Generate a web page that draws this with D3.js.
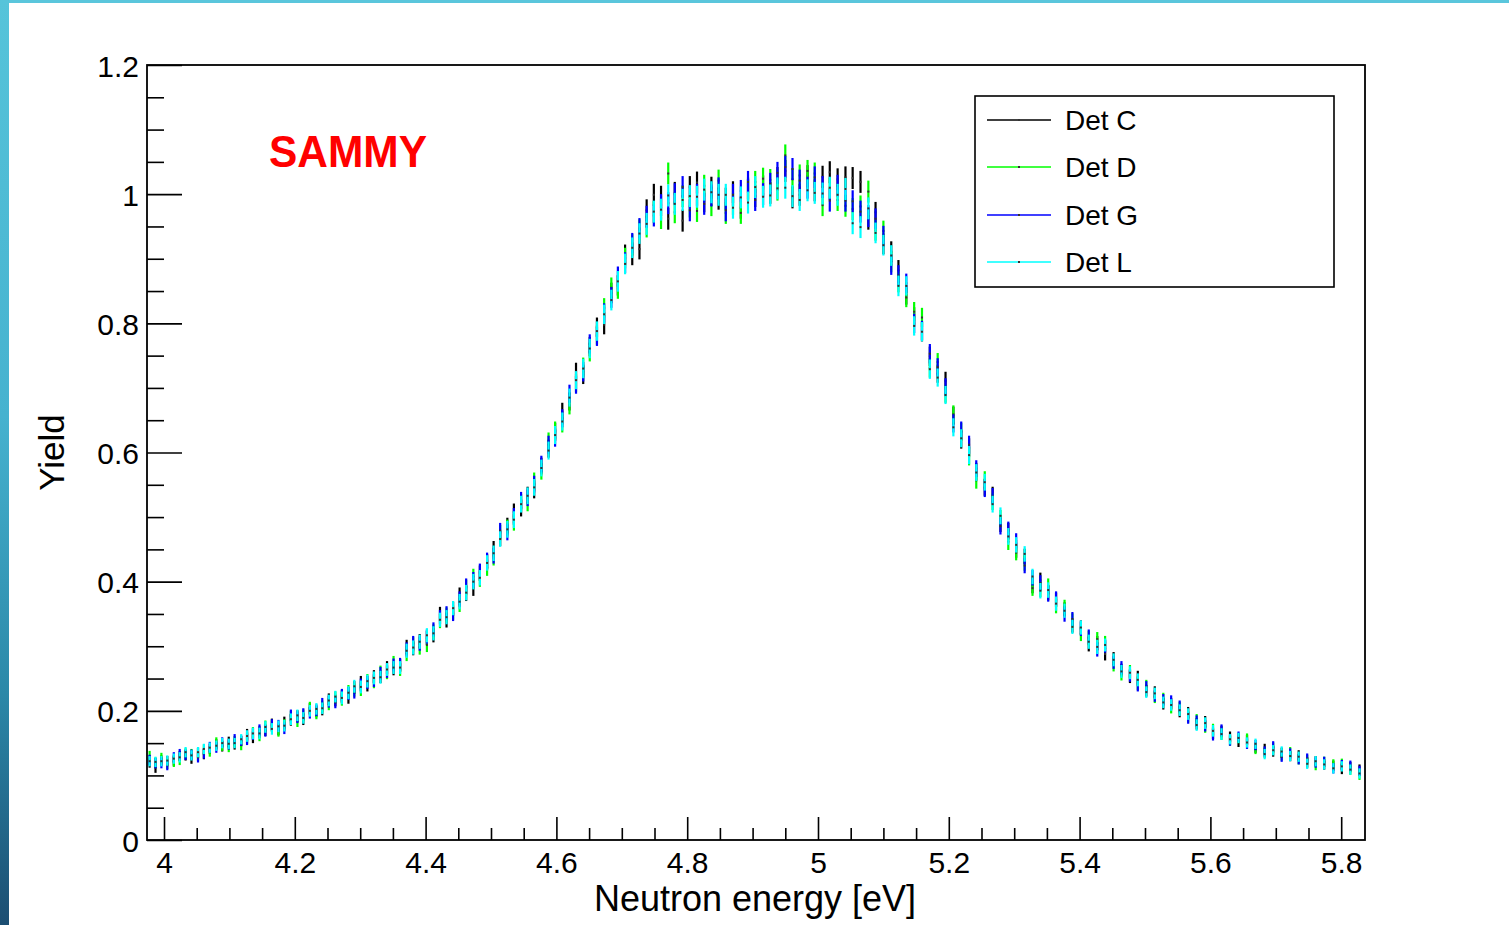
<!DOCTYPE html>
<html>
<head>
<meta charset="utf-8">
<script src="https://cdn.jsdelivr.net/npm/d3@7/dist/d3.min.js"></script>
<style>
html,body{margin:0;padding:0;background:#fff;}
svg{display:block;}
text{font-family:"Liberation Sans",Arial,Helvetica,sans-serif;}
</style>
</head>
<body>
<svg id="chart" width="1509" height="925"></svg>
<script>
// ---------- data ----------
const energies = [3.978,3.987,3.996,4.005,4.015,4.024,4.033,4.042,4.052,4.061,
4.070,4.080,4.089,4.099,4.108,4.118,4.127,4.136,4.146,4.155,
4.165,4.175,4.184,4.194,4.204,4.213,4.223,4.233,4.242,4.252,
4.262,4.272,4.282,4.291,4.301,4.311,4.321,4.331,4.341,4.351,
4.361,4.371,4.381,4.391,4.402,4.412,4.422,4.432,4.442,4.452,
4.462,4.473,4.483,4.494,4.504,4.514,4.525,4.535,4.546,4.556,
4.566,4.577,4.588,4.598,4.609,4.620,4.630,4.641,4.651,4.662,
4.673,4.684,4.694,4.705,4.716,4.727,4.738,4.749,4.760,4.771,
4.781,4.793,4.804,4.815,4.826,4.837,4.848,4.859,4.870,4.882,
4.893,4.904,4.916,4.927,4.938,4.950,4.961,4.972,4.984,4.995,
5.007,5.018,5.030,5.042,5.053,5.065,5.077,5.088,5.100,5.112,
5.123,5.135,5.147,5.159,5.171,5.183,5.195,5.207,5.219,5.231,
5.242,5.255,5.267,5.279,5.291,5.303,5.316,5.328,5.340,5.352,
5.364,5.377,5.389,5.402,5.414,5.427,5.439,5.452,5.464,5.477,
5.489,5.502,5.515,5.528,5.540,5.553,5.566,5.579,5.592,5.604,
5.617,5.630,5.643,5.656,5.669,5.683,5.696,5.709,5.722,5.735,
5.748,5.761,5.774,5.788,5.801,5.814,5.828];

const detC = [0.120,0.112,0.123,0.122,0.123,0.130,0.131,0.126,0.135,0.133,
0.141,0.148,0.145,0.152,0.148,0.153,0.163,0.159,0.167,0.170,
0.179,0.171,0.182,0.186,0.192,0.187,0.203,0.199,0.202,0.218,
0.216,0.222,0.221,0.236,0.244,0.240,0.253,0.253,0.267,0.265,
0.270,0.299,0.297,0.308,0.313,0.317,0.350,0.340,0.358,0.379,
0.382,0.390,0.413,0.431,0.451,0.467,0.486,0.508,0.514,0.534,
0.542,0.579,0.606,0.632,0.663,0.679,0.725,0.721,0.764,0.794,
0.798,0.847,0.859,0.906,0.906,0.915,0.975,0.999,0.996,0.962,
1.002,0.959,1.011,1.018,0.989,1.010,0.993,0.993,1.003,0.979,
1.007,0.997,1.012,1.002,1.025,1.036,0.995,0.999,1.028,1.006,
1.027,1.034,1.023,1.026,1.025,1.019,0.962,0.972,0.923,0.911,
0.882,0.844,0.810,0.787,0.749,0.722,0.711,0.657,0.620,0.608,
0.571,0.546,0.534,0.490,0.478,0.449,0.439,0.394,0.402,0.383,
0.372,0.357,0.332,0.329,0.303,0.305,0.288,0.281,0.263,0.253,
0.252,0.231,0.229,0.211,0.211,0.199,0.197,0.180,0.183,0.165,
0.168,0.160,0.152,0.155,0.143,0.141,0.137,0.135,0.130,0.131,
0.120,0.122,0.117,0.115,0.110,0.113,0.109];

const detD = [0.130,0.120,0.127,0.118,0.121,0.124,0.134,0.133,0.130,0.140,
0.137,0.151,0.146,0.144,0.153,0.147,0.158,0.166,0.162,0.176,
0.176,0.169,0.178,0.191,0.184,0.193,0.205,0.196,0.207,0.210,
0.221,0.218,0.230,0.232,0.233,0.247,0.245,0.260,0.259,0.275,
0.264,0.288,0.303,0.298,0.302,0.323,0.339,0.349,0.352,0.365,
0.391,0.408,0.404,0.421,0.437,0.476,0.483,0.492,0.523,0.522,
0.556,0.571,0.617,0.634,0.645,0.673,0.708,0.732,0.756,0.782,
0.824,0.855,0.854,0.901,0.922,0.945,0.950,0.972,0.963,1.032,
0.972,0.997,0.981,0.974,1.013,0.983,1.021,0.971,0.985,0.971,
1.009,1.019,1.024,1.022,1.007,1.060,1.023,1.029,1.036,1.032,
0.983,1.008,0.991,0.982,0.977,0.981,1.004,0.944,0.943,0.895,
0.864,0.840,0.818,0.809,0.731,0.740,0.691,0.659,0.632,0.594,
0.557,0.558,0.524,0.498,0.462,0.445,0.429,0.390,0.388,0.393,
0.362,0.361,0.340,0.319,0.313,0.311,0.306,0.271,0.257,0.261,
0.242,0.239,0.221,0.219,0.205,0.205,0.191,0.186,0.175,0.171,
0.164,0.154,0.158,0.157,0.141,0.135,0.143,0.131,0.136,0.125,
0.124,0.116,0.121,0.117,0.118,0.109,0.101];

const detG = [0.124,0.119,0.119,0.116,0.128,0.133,0.132,0.132,0.128,0.134,
0.144,0.143,0.151,0.148,0.156,0.154,0.156,0.164,0.170,0.169,
0.178,0.177,0.173,0.193,0.190,0.195,0.197,0.201,0.211,0.214,
0.213,0.224,0.227,0.229,0.240,0.244,0.247,0.258,0.261,0.271,
0.272,0.295,0.305,0.304,0.315,0.326,0.345,0.351,0.350,0.373,
0.393,0.403,0.416,0.433,0.440,0.479,0.477,0.501,0.526,0.530,
0.551,0.582,0.612,0.623,0.653,0.691,0.705,0.725,0.768,0.780,
0.816,0.840,0.872,0.894,0.924,0.947,0.965,0.967,0.983,0.986,
1.000,1.011,0.975,0.999,0.985,0.998,1.009,0.975,0.999,1.005,
1.019,0.991,1.000,1.016,1.033,1.042,1.039,1.021,1.010,1.026,
1.011,0.990,1.013,0.990,0.989,0.973,0.966,0.962,0.935,0.891,
0.874,0.862,0.800,0.789,0.753,0.732,0.701,0.645,0.634,0.612,
0.575,0.544,0.532,0.486,0.480,0.463,0.425,0.406,0.398,0.381,
0.374,0.349,0.342,0.327,0.315,0.295,0.300,0.275,0.267,0.255,
0.240,0.237,0.223,0.217,0.215,0.207,0.189,0.184,0.177,0.163,
0.170,0.154,0.160,0.149,0.147,0.137,0.145,0.129,0.134,0.125,
0.126,0.120,0.121,0.111,0.116,0.115,0.107];

const detL = [0.122,0.121,0.122,0.123,0.126,0.128,0.136,0.131,0.136,0.141,
0.143,0.146,0.150,0.149,0.150,0.156,0.161,0.165,0.165,0.175,
0.172,0.176,0.177,0.187,0.193,0.189,0.200,0.203,0.204,0.216,
0.222,0.220,0.228,0.238,0.237,0.246,0.251,0.252,0.264,0.267,
0.267,0.293,0.298,0.307,0.317,0.320,0.341,0.345,0.359,0.369,
0.383,0.400,0.406,0.429,0.444,0.466,0.481,0.496,0.520,0.533,
0.546,0.576,0.603,0.627,0.648,0.685,0.712,0.730,0.761,0.788,
0.814,0.836,0.865,0.892,0.917,0.939,0.954,0.973,0.976,0.998,
0.985,0.991,0.997,0.996,1.007,1.003,0.999,0.999,0.979,0.995,
0.987,1.011,0.996,0.998,1.009,1.010,0.997,0.991,1.006,1.002,
1.001,1.010,0.999,1.008,0.955,0.949,0.978,0.940,0.921,0.905,
0.858,0.858,0.796,0.787,0.729,0.716,0.689,0.639,0.622,0.596,
0.569,0.554,0.520,0.502,0.470,0.457,0.443,0.408,0.386,0.387,
0.366,0.355,0.330,0.329,0.307,0.299,0.302,0.279,0.261,0.259,
0.248,0.229,0.227,0.213,0.209,0.201,0.195,0.178,0.181,0.169,
0.164,0.156,0.158,0.151,0.149,0.133,0.139,0.137,0.130,0.129,
0.118,0.122,0.117,0.111,0.114,0.109,0.103];

const errors = [0.008,0.008,0.008,0.008,0.008,0.008,0.008,0.008,0.008,0.008,
0.008,0.008,0.008,0.008,0.008,0.008,0.009,0.009,0.009,0.009,
0.009,0.009,0.009,0.009,0.009,0.009,0.009,0.009,0.009,0.009,
0.009,0.010,0.010,0.010,0.010,0.010,0.010,0.010,0.010,0.010,
0.010,0.011,0.011,0.011,0.011,0.011,0.011,0.011,0.011,0.012,
0.012,0.012,0.012,0.012,0.012,0.012,0.013,0.013,0.013,0.013,
0.013,0.013,0.014,0.014,0.014,0.014,0.014,0.015,0.015,0.015,
0.015,0.016,0.016,0.016,0.016,0.016,0.017,0.017,0.017,0.017,
0.017,0.017,0.017,0.017,0.017,0.017,0.017,0.017,0.017,0.017,
0.017,0.017,0.017,0.017,0.017,0.017,0.017,0.017,0.017,0.017,
0.017,0.017,0.017,0.017,0.017,0.017,0.017,0.016,0.016,0.016,
0.016,0.015,0.015,0.015,0.015,0.014,0.014,0.014,0.014,0.014,
0.013,0.013,0.013,0.013,0.013,0.012,0.012,0.012,0.012,0.012,
0.011,0.011,0.011,0.011,0.011,0.011,0.010,0.010,0.010,0.010,
0.010,0.009,0.009,0.009,0.009,0.009,0.009,0.009,0.009,0.009,
0.009,0.008,0.008,0.008,0.008,0.008,0.008,0.008,0.008,0.008,
0.008,0.008,0.008,0.008,0.008,0.008,0.008];

const seriesNames = ["Det C", "Det D", "Det G", "Det L"];
const seriesColors = ["#000000", "#00ff00", "#0000ff", "#00ffff"];
const xMajorTicks = [4.0, 4.2, 4.4, 4.6, 4.8, 5.0, 5.2, 5.4, 5.6, 5.8];
const xTickLabels = ["4", "4.2", "4.4", "4.6", "4.8", "5", "5.2", "5.4", "5.6", "5.8"];
const yMajorTicks = [0, 0.2, 0.4, 0.6, 0.8, 1.0, 1.2];
const yTickLabels = ["0", "0.2", "0.4", "0.6", "0.8", "1", "1.2"];
const xTitle = "Neutron energy [eV]";
const yTitle = "Yield";
const labelText = "SAMMY";

// ---------- layout ----------
const svg = d3.select("#chart");
const W = 1509, H = 925;
const frame = {left: 147, right: 1365, top: 65, bottom: 840};

// slide decoration
const defs = svg.append("defs");
const grad = defs.append("linearGradient").attr("id", "sideGrad")
  .attr("x1", 0).attr("y1", 0).attr("x2", 0).attr("y2", 1);
grad.append("stop").attr("offset", "0%").attr("stop-color", "#56c4da");
grad.append("stop").attr("offset", "45%").attr("stop-color", "#46b2cf");
grad.append("stop").attr("offset", "75%").attr("stop-color", "#2b88a8");
grad.append("stop").attr("offset", "100%").attr("stop-color", "#1c4e72");
svg.append("rect").attr("x", 0).attr("y", 0).attr("width", W).attr("height", 3).attr("fill", "#5ac6dc");
svg.append("rect").attr("x", 0).attr("y", 0).attr("width", 9).attr("height", H).attr("fill", "url(#sideGrad)");

const x = d3.scaleLinear().domain([3.974, 5.8364]).range([frame.left, frame.right]);
const y = d3.scaleLinear().domain([0, 1.2]).range([frame.bottom, frame.top]);

// minor tick values (0.05 steps between the major ticks)
const xMinor = d3.range(0, 40).map(i => 3.95 + i * 0.05).filter(v => v >= 3.974 && v <= 5.836 && Math.abs(v * 5 - Math.round(v * 5)) > 1e-6);
const yMinor = d3.range(0, 25).map(i => i * 0.05).filter(v => v <= 1.2 && Math.abs(v * 5 - Math.round(v * 5)) > 1e-6);

// axes (ROOT style: ticks inside the frame)
const xAxisMajor = d3.axisBottom(x).tickValues(xMajorTicks).tickSize(-23)
  .tickFormat((d, i) => xTickLabels[i]).tickPadding(8);
const gx = svg.append("g").attr("transform", `translate(0,${frame.bottom})`).call(xAxisMajor);
gx.select(".domain").remove();
gx.selectAll(".tick line").attr("stroke", "#000").attr("stroke-width", 1.6);
gx.selectAll(".tick text").attr("fill", "#000").attr("font-size", 30).attr("dy", null).attr("y", 33);

const gxm = svg.append("g").attr("transform", `translate(0,${frame.bottom})`)
  .call(d3.axisBottom(x).tickValues(xMinor).tickSize(-12).tickFormat(""));
gxm.select(".domain").remove();
gxm.selectAll(".tick line").attr("stroke", "#000").attr("stroke-width", 1.6);

const yAxisMajor = d3.axisLeft(y).tickValues(yMajorTicks).tickSize(-35)
  .tickFormat((d, i) => yTickLabels[i]).tickPadding(8);
const gy = svg.append("g").attr("transform", `translate(${frame.left},0)`).call(yAxisMajor);
gy.select(".domain").remove();
gy.selectAll(".tick line").attr("stroke", "#000").attr("stroke-width", 1.6);
gy.selectAll(".tick text").attr("fill", "#000").attr("font-size", 30).attr("dy", null).attr("y", 11);

const gym = svg.append("g").attr("transform", `translate(${frame.left},0)`)
  .call(d3.axisLeft(y).tickValues(yMinor).tickSize(-17).tickFormat(""));
gym.select(".domain").remove();
gym.selectAll(".tick line").attr("stroke", "#000").attr("stroke-width", 1.6);

// frame
svg.append("rect").attr("x", frame.left).attr("y", frame.top)
  .attr("width", frame.right - frame.left).attr("height", frame.bottom - frame.top)
  .attr("fill", "none").attr("stroke", "#000").attr("stroke-width", 1.8);

// axis titles
svg.append("text").attr("x", 755).attr("y", 911)
  .attr("text-anchor", "middle").attr("font-size", 36).attr("fill", "#000").text(xTitle);
svg.append("text").attr("transform", `translate(64,${(frame.top + frame.bottom) / 2}) rotate(-90)`)
  .attr("text-anchor", "middle").attr("font-size", 35).attr("fill", "#000").text(yTitle);

// data: error bars with dot markers
const allSeries = [detC, detD, detG, detL];
const plot = svg.append("g");
allSeries.forEach((vals, si) => {
  const g = plot.append("g");
  const pts = energies.map((e, i) => ({e, v: vals[i], err: errors[i]}));
  g.selectAll("line").data(pts).enter().append("line")
    .attr("x1", d => x(d.e)).attr("x2", d => x(d.e))
    .attr("y1", d => y(d.v - d.err)).attr("y2", d => y(d.v + d.err))
    .attr("stroke", seriesColors[si]).attr("stroke-width", 2.2);
  g.selectAll("rect").data(pts).enter().append("rect")
    .attr("x", d => x(d.e) - 1).attr("y", d => y(d.v) - 1)
    .attr("width", 2).attr("height", 2).attr("fill", "#333");
});

// SAMMY label
svg.append("text").attr("x", 269).attr("y", 167)
  .attr("font-family", "Lato, 'Open Sans', sans-serif").attr("font-weight", 900)
  .attr("font-size", 45).attr("fill", "#ff0000")
  .attr("textLength", 158).attr("lengthAdjust", "spacingAndGlyphs").text(labelText);

// legend
const lg = svg.append("g");
lg.append("rect").attr("x", 975).attr("y", 96).attr("width", 359).attr("height", 191)
  .attr("fill", "#fff").attr("stroke", "#000").attr("stroke-width", 1.6);
const legendY = [120, 167, 215, 262];
seriesNames.forEach((name, i) => {
  lg.append("line").attr("x1", 987).attr("x2", 1051).attr("y1", legendY[i]).attr("y2", legendY[i])
    .attr("stroke", seriesColors[i]).attr("stroke-width", 1.6);
  lg.append("rect").attr("x", 1018).attr("y", legendY[i] - 1).attr("width", 2).attr("height", 2).attr("fill", "#333");
  lg.append("text").attr("x", 1065).attr("y", legendY[i] + 10).attr("font-size", 28)
    .attr("fill", "#000").text(name);
});
</script>
</body>
</html>
